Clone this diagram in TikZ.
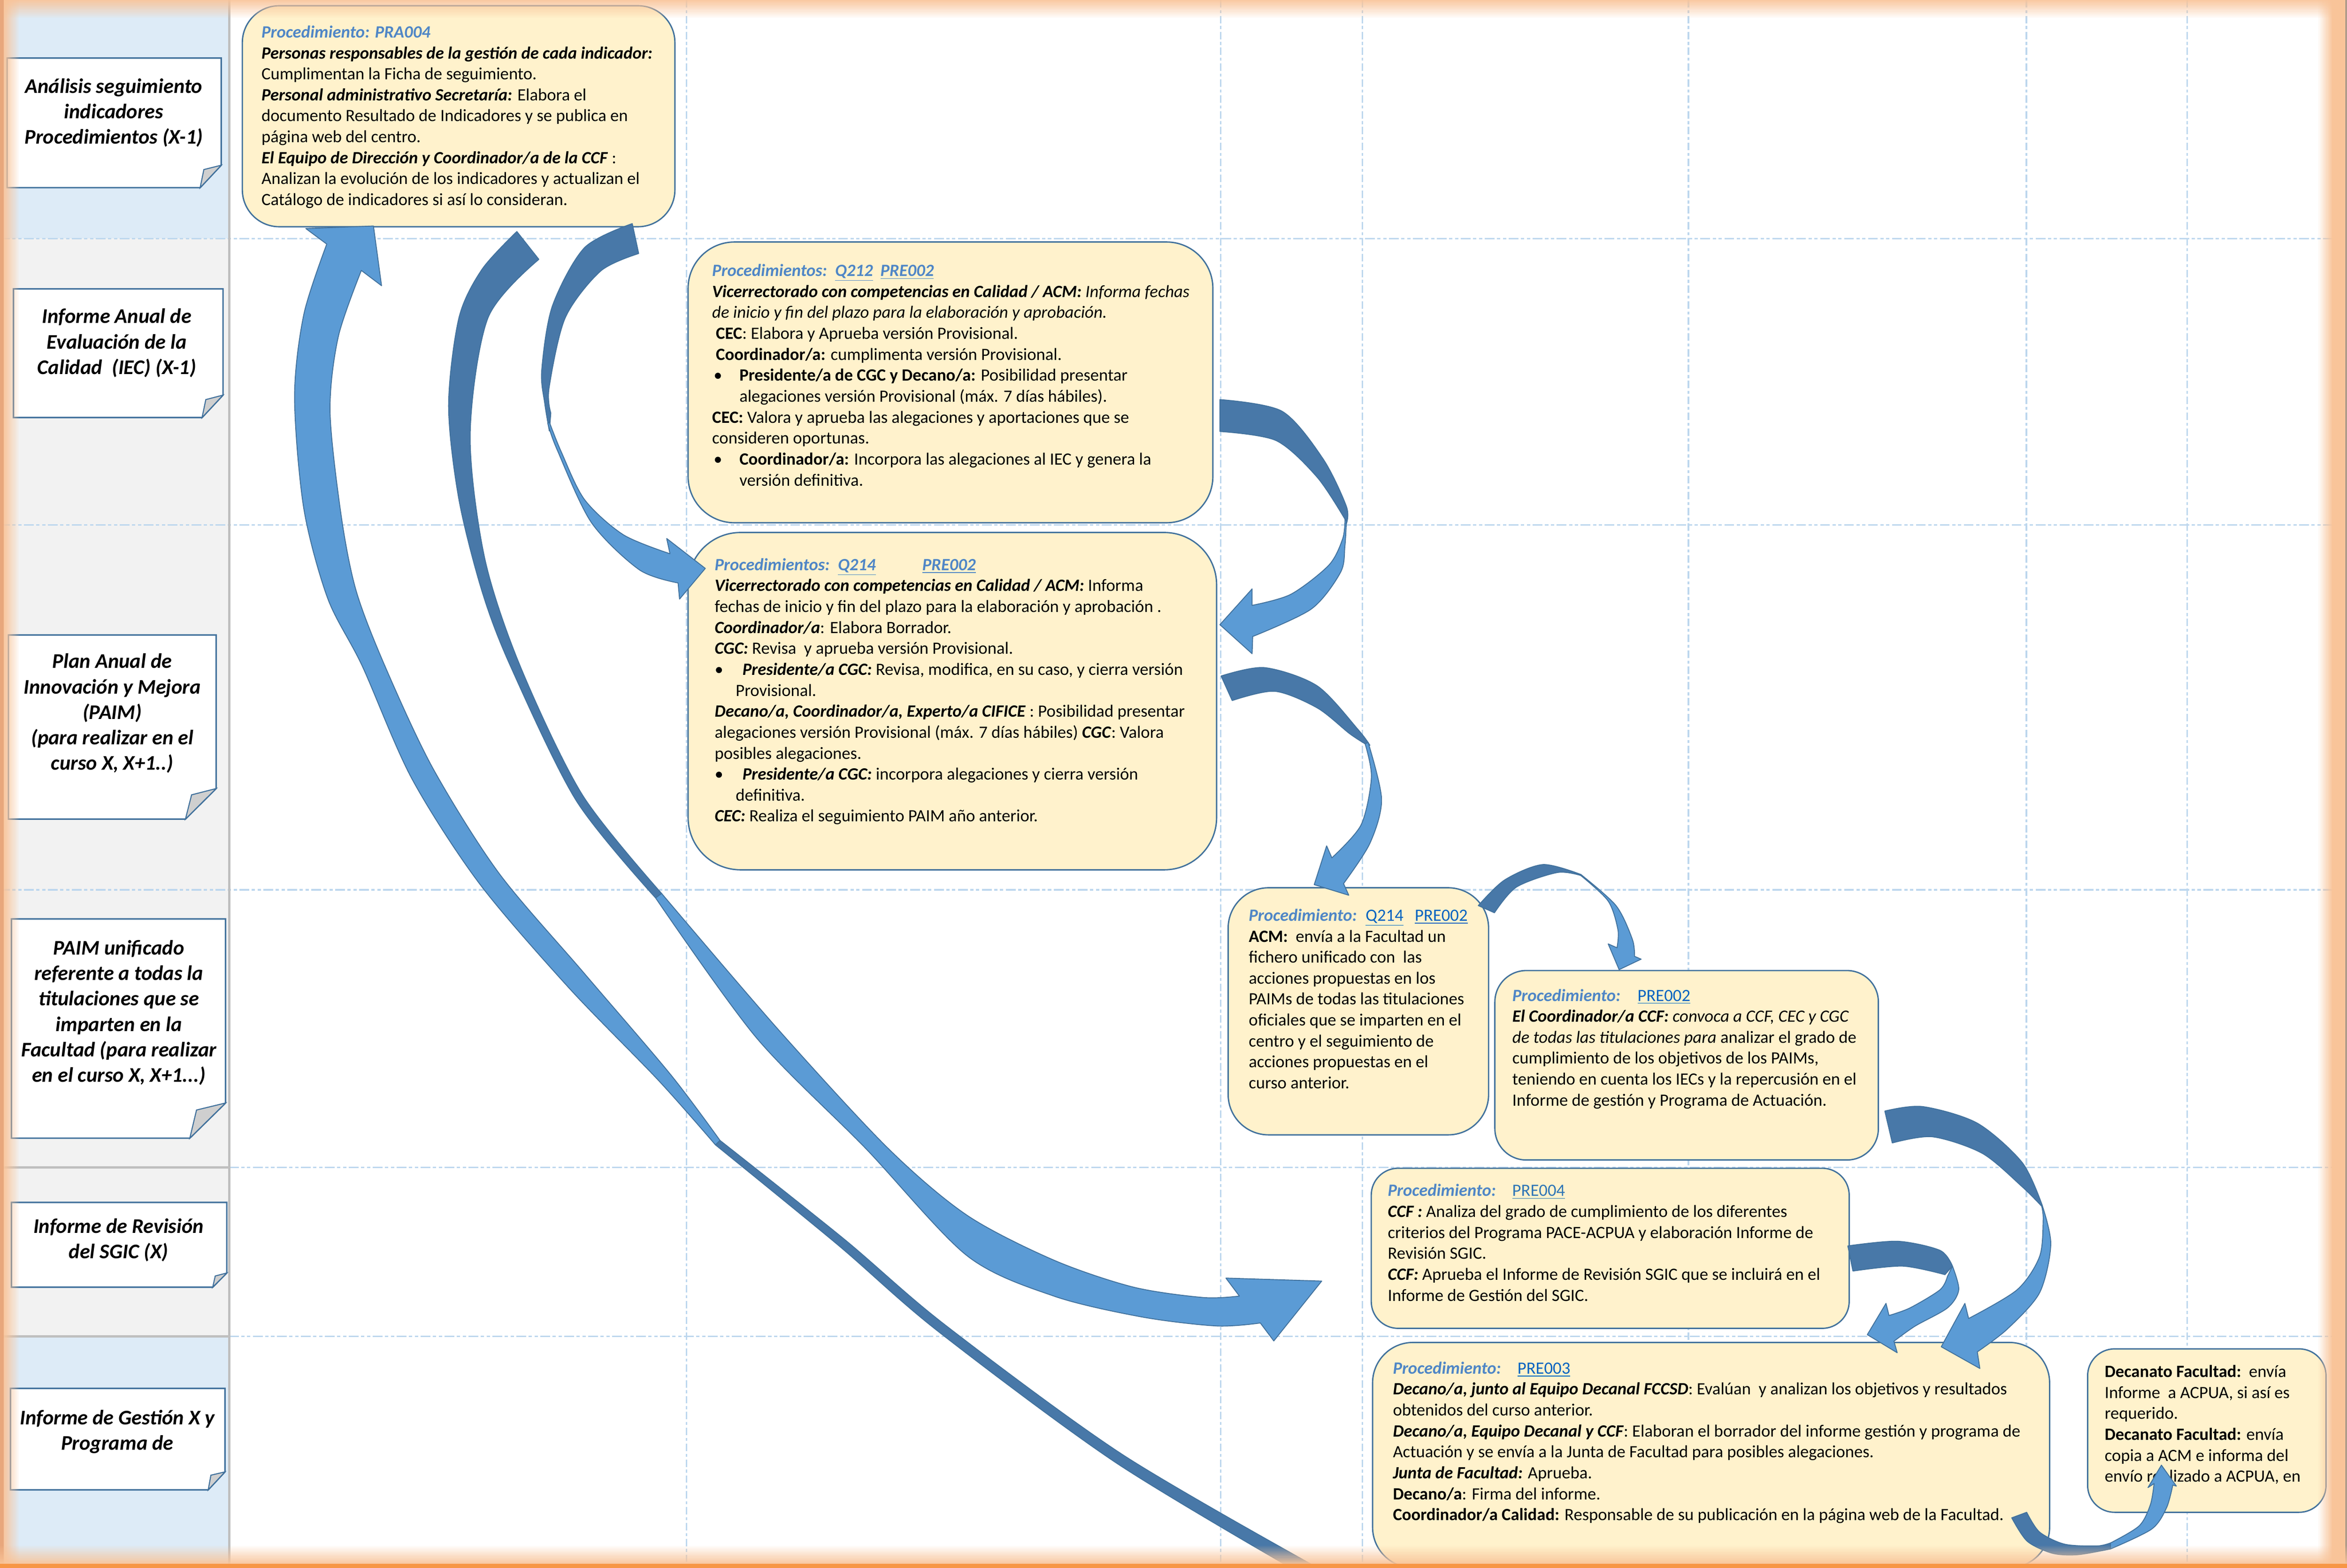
\documentclass[tikz,border=0pt]{standalone}
\usepackage{fontspec}
\setmainfont{Carlito}
\usetikzlibrary{calc}
\definecolor{boxfill}{HTML}{FFF2CC}
\definecolor{boxline}{HTML}{41719C}
\definecolor{arrLight}{HTML}{5B9BD5}
\definecolor{arrDark}{HTML}{4878A8}
\definecolor{procBlue}{HTML}{4F86C6}
\definecolor{linkBlue}{HTML}{0563C1}
\definecolor{linkF}{HTML}{2E75B6}
\definecolor{gridBlue}{HTML}{BDD7EE}
\definecolor{laneBlue}{HTML}{DDEBF7}
\definecolor{laneGrey}{HTML}{F2F2F2}
\definecolor{sepGrey}{HTML}{BFBFBF}
\definecolor{orangeL}{HTML}{F9C499}
\definecolor{orangeM}{HTML}{E8A77C}
\definecolor{orangeD}{HTML}{F79646}
\definecolor{foldGrey}{HTML}{CFCFCF}
\newcommand\bi[1]{\textbf{\textit{#1}}}
\newcommand\proc[1]{{\color{procBlue}\bfseries\itshape #1}}
\newcommand\lnk[1]{{\color{linkBlue}\underline{#1}}}
\newcommand\foldbox[5]{%
  \draw[lblline] (#1.north west) -- (#1.north east) -- ($(#1.south east)+(0,-#3)$) -- ($(#1.south east)+(-#2,0)$) -- (#1.south west) -- cycle;
  \filldraw[foldst] ($(#1.south east)+(0,-#3)$) -- ($(#1.south east)+(-#4,-#5)$) -- ($(#1.south east)+(-#2,0)$) -- cycle;
}
\begin{document}
\begin{tikzpicture}[x=1pt,y=-1pt,
  pbox/.style={draw=boxline, fill=boxfill, line width=0.9pt, inner sep=0pt, outer sep=0pt, rectangle},
  txt/.style={anchor=north west, inner sep=0pt, outer sep=0pt, align=left, font=\fontsize{11.5}{14}\selectfont},
  lblarea/.style={rectangle, inner sep=0pt, outer sep=0pt, draw=none},
  lblline/.style={draw=boxline, fill=white, line width=1pt},
  foldst/.style={draw=boxline, fill=foldGrey, line width=0.7pt},
  lbltxt/.style={anchor=north, inner sep=0pt, outer sep=0pt, align=center, font=\fontsize{13.9}{17}\selectfont\bfseries\itshape},
  hgrid/.style={gridBlue, line width=1.1pt, dash pattern=on 6.5pt off 1.7pt on 2.2pt off 1.7pt on 2.2pt off 1.7pt},
  vgrid/.style={gridBlue, line width=1pt, dash pattern=on 5pt off 1.8pt on 2pt off 1.8pt},
  arrD/.style={fill=arrDark, draw=boxline, line width=0.6pt, line join=round},
  arrL/.style={fill=arrLight, draw=boxline, line width=0.6pt, line join=round},
]
\useasboundingbox (0,0) rectangle (1568,1047.6);
\fill[white] (0,0) rectangle (1568,1047.6);
% left column lanes
\fill[laneBlue] (0,0) rectangle (153,159.4);
\fill[laneGrey] (0,159.4) rectangle (153,893);
\fill[laneBlue] (0,893) rectangle (153,1047.6);
% grid
\foreach \yy in {159.4,350.7,594.5}{\draw[hgrid] (0,\yy) -- (1568,\yy);}
\foreach \yy in {780,893}{\draw[hgrid] (153,\yy) -- (1568,\yy); \draw[sepGrey, line width=1.5pt] (0,\yy) -- (153,\yy);}
\foreach \xx in {458.7,815.5,910.3,1128,1353.8,1461.3}{\draw[vgrid] (\xx,0) -- (\xx,1047.6);}
\draw[sepGrey, line width=1.3pt] (153.2,0) -- (153.2,1047.6);

% label boxes
\node[lblarea, minimum width=143.1pt, minimum height=86.6pt] (L1) at (76.25,82.1) {};
\foldbox{L1}{14.1}{15}{11.6}{12.1}
\node[lbltxt] (L1t) at (76,50.3) {\strut Análisis seguimiento\\indicadores\\Procedimientos (X-1)};
\node[lblarea, minimum width=140pt, minimum height=86pt] (L2) at (79,236) {};
\foldbox{L2}{14}{15}{11.5}{12}
\node[lbltxt] (L2t) at (78,204.1) {\strut Informe Anual de\\Evaluación de la\\Calidad\ \ (IEC) (X-1)};
\node[lblarea, minimum width=138.8pt, minimum height=123pt] (L3) at (75,485.8) {};
\foldbox{L3}{20.5}{20.4}{16.4}{16.2}
\node[lbltxt] (L3t) at (75,434.6) {\strut Plan Anual de\\Innovación y Mejora\\(PAIM)\\(para realizar en el\\curso X, X+1..)};
\node[lblarea, minimum width=143.1pt, minimum height=146.5pt] (L4) at (79.15,687.25) {};
\foldbox{L4}{23.9}{23.5}{19.4}{18.8}
\node[lbltxt] (L4t) at (79.4,626.1) {\strut PAIM unificado\\referente a todas la\\titulaciones que se\\imparten en la\\Facultad (para realizar\\en el curso X, X+1...)};
\node[lblarea, minimum width=143.9pt, minimum height=56.7pt] (L5) at (79.55,831.75) {};
\foldbox{L5}{9.4}{9.5}{7.7}{7.5}
\node[lbltxt] (L5t) at (79.2,812.1) {\strut Informe de Revisión\\del SGIC (X)};
\node[lblarea, minimum width=143.3pt, minimum height=67.8pt] (L6) at (78.65,961.6) {};
\foldbox{L6}{11.2}{12}{9.4}{9.8}
\node[lbltxt] (L6t) at (78.4,940.1) {\strut Informe de Gestión X y\\Programa de};

% main boxes
\node[pbox, rounded corners=24.7pt, minimum width=289pt, minimum height=147.7pt] (A) at (306.4,77.65) {};
\node[pbox, rounded corners=31pt, minimum width=350.6pt, minimum height=187.6pt] (B) at (635,255.5) {};
\node[pbox, rounded corners=35pt, minimum width=353.1pt, minimum height=225.4pt] (C) at (636.25,468.5) {};
\node[pbox, rounded corners=27pt, minimum width=174pt, minimum height=165.1pt] (D) at (907.5,675.75) {};
\node[pbox, rounded corners=21pt, minimum width=256.2pt, minimum height=126.6pt] (E) at (1126.8,711.8) {};
\node[pbox, rounded corners=18pt, minimum width=319.3pt, minimum height=107pt] (F) at (1075.75,834.1) {};
\node[pbox, rounded corners=27pt, minimum width=452.3pt, minimum height=150.5pt] (G) at (1143.15,972.25) {};
\node[pbox, rounded corners=18pt, minimum width=159.3pt, minimum height=109.2pt] (H) at (1474.35,955.9) {};

\node[txt] (At) at (174.7,15.4) {\strut\makebox[75.8pt][l]{\proc{Procedimiento:}}\proc{PRA004}\\
\bi{Personas responsables de la gestión de cada indicador:}\\
Cumplimentan la Ficha de seguimiento.\\
\bi{Personal administrativo Secretaría:} Elabora el\\
documento Resultado de Indicadores y se publica en\\
página web del centro.\\
\bi{El Equipo de Dirección y Coordinador/a de la CCF} :\\
Analizan la evolución de los indicadores y actualizan el\\
Catálogo de indicadores si así lo consideran.};

\node[txt] (Bt) at (475.8,174.8) {\strut\makebox[82.1pt][l]{\proc{Procedimientos:}}\makebox[30.3pt][l]{\proc{\underline{Q212}}}\proc{\underline{PRE002}}\\
\bi{Vicerrectorado con competencias en Calidad / ACM:}\textit{ Informa fechas}\\
\textit{de inicio y fin del plazo para la elaboración y aprobación.}\\
\hspace*{2.5pt}\textbf{CEC}: Elabora y Aprueba versión Provisional.\\
\hspace*{2.5pt}\textbf{Coordinador/a:} cumplimenta versión Provisional.\\
\makebox[18.2pt][l]{\hspace*{1pt}•}\textbf{Presidente/a de CGC y Decano/a:} Posibilidad presentar\\
\hspace*{18.2pt}alegaciones versión Provisional (máx. 7 días hábiles).\\
\textbf{CEC:} Valora y aprueba las alegaciones y aportaciones que se\\
consideren oportunas.\\
\makebox[18.2pt][l]{\hspace*{1pt}•}\textbf{Coordinador/a:} Incorpora las alegaciones al IEC y genera la\\
\hspace*{18.2pt}versión definitiva.};

\node[txt] (Ct) at (477.5,371.3) {\strut\makebox[82.3pt][l]{\proc{Procedimientos:}}\makebox[56.4pt][l]{\proc{\underline{Q214}}}\proc{\underline{PRE002}}\\
\bi{Vicerrectorado con competencias en Calidad / ACM:} Informa\\
fechas de inicio y fin del plazo para la elaboración y aprobación .\\
\bi{Coordinador/a}: Elabora Borrador.\\
\bi{CGC:} Revisa\ \ y aprueba versión Provisional.\\
\makebox[18.6pt][l]{•}\bi{Presidente/a CGC:} Revisa, modifica, en su caso, y cierra versión\\
\hspace*{14pt}Provisional.\\
\bi{Decano/a, Coordinador/a, Experto/a CIFICE} : Posibilidad presentar\\
alegaciones versión Provisional (máx. 7 días hábiles) \bi{CGC}: Valora\\
posibles alegaciones.\\
\makebox[18.6pt][l]{•}\bi{Presidente/a CGC:} incorpora alegaciones y cierra versión\\
\hspace*{14pt}definitiva.\\
\bi{CEC:} Realiza el seguimiento PAIM año anterior.};

\node[txt] (Dt) at (834.3,605.6) {\strut\makebox[78.1pt][l]{\proc{Procedimiento:}}\makebox[32.8pt][l]{\lnk{Q214}}\lnk{PRE002}\\
\textbf{ACM:}\ \ envía a la Facultad un\\
fichero unificado con\ \ las\\
acciones propuestas en los\\
PAIMs de todas las titulaciones\\
oficiales que se imparten en el\\
centro y el seguimiento de\\
acciones propuestas en el\\
curso anterior.};

\node[txt] (Et) at (1010.4,659.1) {\strut\makebox[83.6pt][l]{\proc{Procedimiento:}}\lnk{PRE002}\\
\bi{El Coordinador/a CCF:}\textit{ convoca a CCF, CEC y CGC}\\
\textit{de todas las titulaciones para} analizar el grado de\\
cumplimiento de los objetivos de los PAIMs,\\
teniendo en cuenta los IECs y la repercusión en el\\
Informe de gestión y Programa de Actuación.};

\node[txt] (Ft) at (927.2,789.5) {\strut\makebox[83.1pt][l]{\proc{Procedimiento:}}{\color{linkF}\underline{PRE004}}\\
\bi{CCF :} Analiza del grado de cumplimiento de los diferentes\\
criterios del Programa PACE-ACPUA y elaboración Informe de\\
Revisión SGIC.\\
\bi{CCF:} Aprueba el Informe de Revisión SGIC que se incluirá en el\\
Informe de Gestión del SGIC.};

\node[txt] (Gt) at (930.6,908.2) {\strut\makebox[83.2pt][l]{\proc{Procedimiento:}}\lnk{PRE003}\\
\bi{Decano/a, junto al Equipo Decanal FCCSD}: Evalúan\ \ y analizan los objetivos y resultados\\
obtenidos del curso anterior.\\
\bi{Decano/a, Equipo Decanal y CCF}: Elaboran el borrador del informe gestión y programa de\\
Actuación y se envía a la Junta de Facultad para posibles alegaciones.\\
\bi{Junta de Facultad:} Aprueba.\\
\textbf{Decano/a}: Firma del informe.\\
\textbf{Coordinador/a Calidad:} Responsable de su publicación en la página web de la Facultad.};

\node[txt] (Ht) at (1406.1,910.5) {\strut\textbf{Decanato Facultad:}\ \ envía\\
Informe\ \ a ACPUA, si así es\\
requerido.\\
\textbf{Decanato Facultad:} envía\\
copia a ACM e informa del\\
envío realizado a ACPUA, en};

% ---- curved block arrows ----
% arrow 1: long arrow from bottom up into A
\filldraw[arrD] plot[smooth] coordinates {(478,765) (560,832) (626,889) (745,977) (870,1052)} -- plot[smooth] coordinates {(881,1048) (750,972) (631,885) (564,828) (481,762)} -- cycle;
\filldraw[arrL] plot[smooth] coordinates {(218.3,163.1) (203,210) (196.8,265.3) (203,340) (219,400) (242,445) (275,520) (320,590) (380,660) (440,722) (478,765)}
  -- plot[smooth] coordinates {(481,762) (448,718) (390,650) (333,583) (289,513) (257.1,444.9) (238,395) (228,345) (220.5,275.1) (226,225) (241.4,180.7)}
  -- (254.9,190.9) -- (249.5,151) -- (204.3,152.7) -- cycle;
% arrow 2: from A down to lane of F
\filldraw[arrD] plot[smooth] coordinates {(345.3,154.7) (322,180) (306.6,212.4) (299.7,271.2) (306.6,333.8) (322,395) (341,445) (385,535) (438,600)}
  -- plot[smooth] coordinates {(442,597) (389,531) (347.5,445) (323.8,372.9) (314.1,290.7) (326,212.4) (360,173.3)} -- cycle;
\filldraw[arrL] plot[smooth] coordinates {(438,600) (505,693) (578,767) (646,839) (704,866) (763,880) (813,886) (842,884)}
  -- (851,896) -- (883,856) -- (819,854) -- (828,866)
  -- plot[smooth] coordinates {(828,866) (804,867) (757,860) (704,842) (646,812) (593,767) (520,688) (442,597)} -- cycle;
% arrow 3: A to C
\filldraw[arrD] plot[smooth] coordinates {(422.4,149.4) (390.5,165.5) (369,204.6) (361.9,247.7) (364,270) (367,288)}
  -- plot[smooth] coordinates {(368,276) (366.8,259.4) (377.6,212.4) (401.3,181.1) (426.7,169.4)} -- cycle;
\filldraw[arrL] plot[smooth] coordinates {(366,283) (372,300) (395,349) (427.1,380.7) (453,389.5)}
  -- (454,400.3) -- (471.2,379.8) -- (445.4,359.8) -- (447.6,370)
  -- plot[smooth] coordinates {(447.6,370) (416.4,357.3) (390.5,333.8) (375,302) (367,282)} -- cycle;
% arrow 4: B to C
\filldraw[arrD] plot[smooth] coordinates {(815,267) (856.5,274.8) (883.9,306.6) (899.5,338.4) (899.5,350)}
  -- plot[smooth] coordinates {(898.6,347) (880,318.9) (852.6,294.4) (815,288.3)} -- cycle;
\filldraw[arrL] plot[smooth] coordinates {(899.5,348) (898.5,365) (895.6,382.4) (876.1,406.9) (836.9,425.3)}
  -- (836.5,436.8) -- (815,417.4) -- (836.5,393.5) -- (836.5,404.5)
  -- plot[smooth] coordinates {(836.5,404.5) (862.4,397.1) (887.8,377.6) (897,360) (898.6,347)} -- cycle;
% arrow 5: C to D
\filldraw[arrD] plot[smooth] coordinates {(815.8,451.7) (844.8,446.1) (880,458.3) (907.4,487.6) (915.2,498)}
  -- plot[smooth] coordinates {(912,497) (901.5,490.1) (880,473) (851.6,461.9) (823.2,468.1)} -- cycle;
\filldraw[arrL] plot[smooth] coordinates {(914,496) (923,534.1) (915.2,563.5) (897.6,590.4)}
  -- (901.1,598.2) -- (878,591.1) -- (886.3,565.2) -- (889.8,573.2)
  -- plot[smooth] coordinates {(889.8,573.2) (909.3,551.2) (916.2,519.4) (912,497)} -- cycle;
% arrow 6: D to E
\filldraw[arrD] plot[smooth] coordinates {(987.6,605.1) (1005.2,588) (1030.7,577.7) (1056.1,584.3)}
  -- plot[smooth] coordinates {(1056.1,585) (1040.4,583) (1013,592.8) (998.4,609.9)} -- cycle;
\filldraw[arrL] plot[smooth] coordinates {(1056.1,584.3) (1079.6,605.1) (1090.5,627.5) (1092,639)}
  -- (1096.4,640.9) -- (1081.7,647.9) -- (1074.4,630.7) -- (1080.3,633.3)
  -- plot[smooth] coordinates {(1080.3,633.3) (1080.9,621.2) (1074.4,602.1) (1056.1,585)} -- cycle;
% arrow 7: E to G
\filldraw[arrD] plot[smooth] coordinates {(1259.2,742.4) (1284.4,739.4) (1321,750.5) (1351,776.8) (1364.3,805.2)}
  -- plot[smooth] coordinates {(1364,806) (1351,793) (1324.4,770.7) (1291.1,759.6) (1264.2,763.7)} -- cycle;
\filldraw[arrL] plot[smooth] coordinates {(1364.3,805.2) (1370.1,831.4) (1362.6,863.8) (1341,888.1) (1321,903.3)}
  -- (1322.7,914.4) -- (1296.9,899.9) -- (1312.7,870.9) -- (1315.2,881)
  -- plot[smooth] coordinates {(1315.2,881) (1347.6,861.8) (1362.6,839.6) (1365,815) (1364,806)} -- cycle;
% arrow 8: F to G
\filldraw[arrD] plot[smooth] coordinates {(1234.5,832.5) (1267.8,829.4) (1296.1,835.5) (1304.4,846)}
  -- plot[smooth] coordinates {(1299.4,851.7) (1271.1,846) (1237.9,849.3)} -- cycle;
\filldraw[arrL] plot[smooth] coordinates {(1304.4,846) (1308.6,861.8) (1301.1,873.9) (1279.4,886.1) (1265.3,896.2)}
  -- (1267.5,903.9) -- (1247.5,891.8) -- (1260,870.9) -- (1262,879)
  -- plot[smooth] coordinates {(1262,879) (1276.1,873.9) (1296.1,861.8) (1301,853)} -- cycle;
% arrow 9: G to H
\filldraw[arrD] plot[smooth] coordinates {(1344,1014.2) (1354.3,1029.8) (1370.9,1037.8) (1387.6,1038.9) (1410,1035)}
  -- plot[smooth] coordinates {(1410,1031) (1400.9,1033) (1379.3,1031.8) (1362.6,1023.7) (1354,1010.5)} -- cycle;
\filldraw[arrL] plot[smooth] coordinates {(1410,1035) (1437.5,1021.7) (1447.4,1007.5) (1451.6,992.3)}
  -- (1454,993) -- (1444,979) -- (1435,994) -- (1439.1,991.3)
  -- plot[smooth] coordinates {(1439.1,991.3) (1436.6,1005.5) (1429.1,1019.6) (1410,1031)} -- cycle;

% ---- orange page border ----
\foreach \i in {0,...,11}{\pgfmathsetmacro\op{0.9*(1-\i/12)}
  \fill[orangeL, fill opacity=\op] (0,\i) rectangle (1568,\i+1);}
\fill[orangeM] (0,0) rectangle (2.6,1047.6);
\foreach \i in {0,...,9}{\pgfmathsetmacro\op{0.9*(1-\i/10)}
  \fill[orangeL, fill opacity=\op] (2.6+\i,0) rectangle (3.6+\i,1047.6);}
\fill[orangeL] (1558,0) rectangle (1568,1047.6);
\foreach \i in {0,...,8}{\pgfmathsetmacro\op{0.9*(1-\i/9)}
  \fill[orangeL, fill opacity=\op] (1557-\i,0) rectangle (1558-\i,1047.6);}
\draw[gray, line width=0.8pt] (1567.3,0) -- (1567.3,1047.6);
\foreach \i in {0,...,11}{\pgfmathsetmacro\op{0.9*(1-\i/12)}
  \fill[orangeL, fill opacity=\op] (0,1044-\i) rectangle (1568,1045-\i);}
\fill[orangeD] (0,1045) rectangle (1568,1047.6);
\end{tikzpicture}
\end{document}
